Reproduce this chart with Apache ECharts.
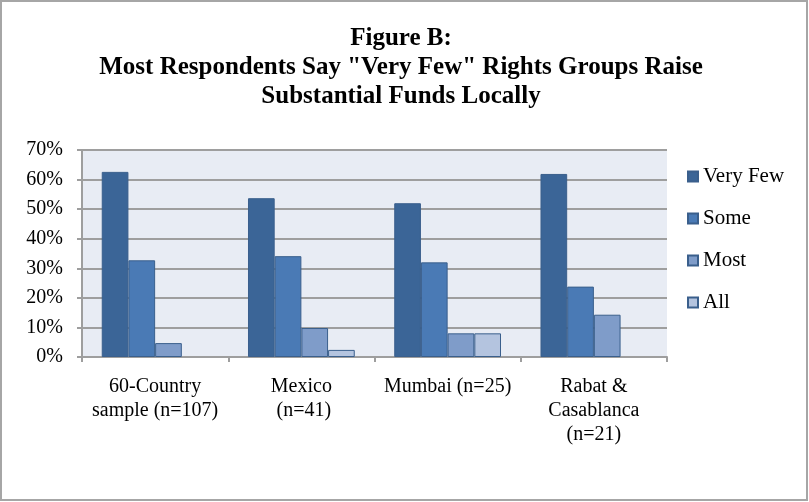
<!DOCTYPE html>
<html><head><meta charset="utf-8">
<script src="https://cdn.jsdelivr.net/npm/echarts@6/dist/echarts.min.js"></script>
<style>html,body{margin:0;padding:0;background:#fff}#c{width:809px;height:502px}</style>
</head><body><div id="c"></div>
<script>
var categories = ['60-Country\nsample (n=107)', 'Mexico\n (n=41)', 'Mumbai (n=25)', 'Rabat &\nCasablanca\n(n=21)'];
var seriesNames = ['Very Few', 'Some', 'Most', 'All'];
var veryFew = [62.6, 53.7, 52, 61.9];
var some = [32.7, 34.1, 32, 23.8];
var most = [4.7, 9.8, 8, 14.3];
var all = [0, 2.4, 8, 0];
var yTicks = [0, 10, 20, 30, 40, 50, 60, 70];

var colors = ['#3B6597', '#4A7AB5', '#7F9CC9', '#B4C4DF'];
var values = [veryFew, some, most, all];
var font = '"Liberation Serif", "Times New Roman", serif';

var chart = echarts.init(document.getElementById('c'), null, {renderer: 'canvas'});
chart.setOption({
  animation: false,
  backgroundColor: '#fff',
  textStyle: {fontFamily: font},
  title: {
    text: 'Figure B:\nMost Respondents Say "Very Few" Rights Groups Raise\nSubstantial Funds Locally',
    left: 401, top: 24, textAlign: 'center', padding: 0,
    textStyle: {fontFamily: font, fontWeight: 'bold', fontSize: 25, lineHeight: 29, color: '#000'}
  },
  graphic: [{
    type: 'rect', shape: {x: 1, y: 1, width: 806, height: 499},
    style: {fill: null, stroke: '#A6A6A6', lineWidth: 2}, silent: true, z: 100
  }],
  legend: {
    orient: 'vertical', left: 687, top: 166, padding: 0,
    itemWidth: 10, itemHeight: 10, itemGap: 21,
    icon: 'rect',
    textStyle: {fontFamily: font, fontSize: 21, color: '#000'},
    data: seriesNames
  },
  grid: {left: 82, right: 142, top: 150, bottom: 145, show: true, backgroundColor: '#E8ECF4', borderWidth: 0},
  xAxis: {
    type: 'category', data: categories,
    axisLine: {lineStyle: {color: '#9E9E9E', width: 2}},
    axisTick: {show: true, length: 5, lineStyle: {color: '#9E9E9E', width: 2}},
    axisLabel: {fontFamily: font, fontSize: 20, color: '#000', lineHeight: 24, margin: 18, interval: 0}
  },
  yAxis: {
    type: 'value', min: 0, max: 70, interval: 10,
    axisLine: {show: true, lineStyle: {color: '#9E9E9E', width: 2}},
    axisTick: {show: true, length: 5, lineStyle: {color: '#9E9E9E', width: 2}},
    splitLine: {lineStyle: {color: '#9E9E9E', width: 2}},
    axisLabel: {fontFamily: font, fontSize: 20, color: '#000', margin: 19,
      formatter: function (v) { return yTicks.indexOf(v) >= 0 ? v + '%' : ''; }}
  },
  series: seriesNames.map(function (n, i) {
    return {
      name: n, type: 'bar',
      data: values[i].map(function (v) { return v === 0 ? null : v; }),
      barGap: '0%', barCategoryGap: '27%',
      itemStyle: {color: colors[i], borderColor: '#3A5F8C', borderWidth: 1}
    };
  })
});
</script></body></html>
